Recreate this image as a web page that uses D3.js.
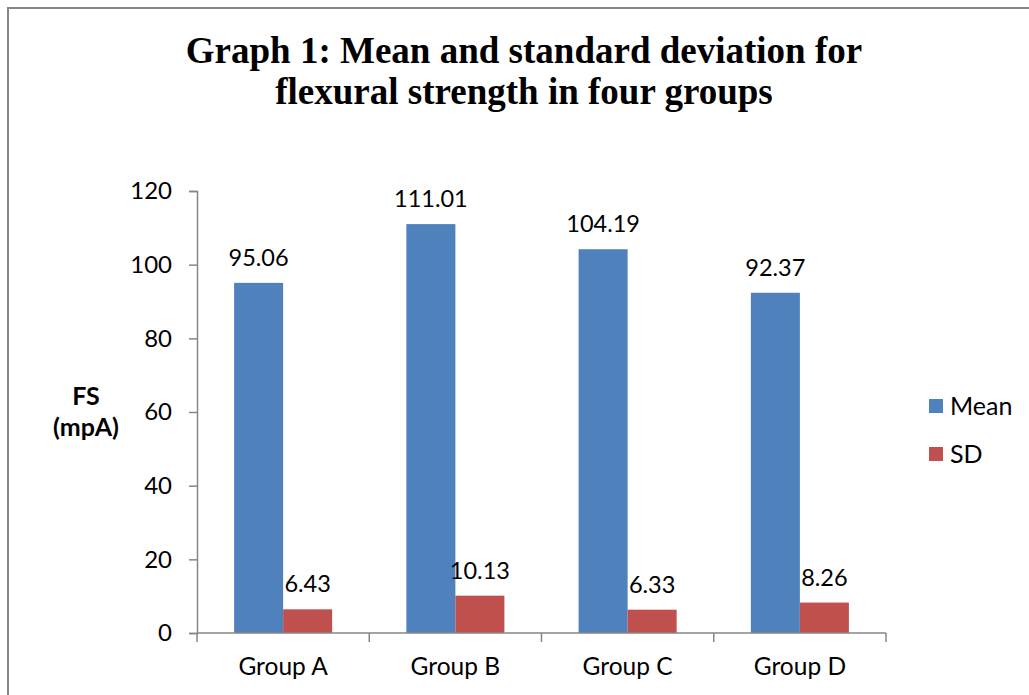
<!DOCTYPE html>
<html>
<head>
<meta charset="utf-8">
<script src="https://cdn.jsdelivr.net/npm/d3@7"></script>
<style>
  html, body { margin: 0; padding: 0; background: #fff; }
  svg { display: block; }
</style>
</head>
<body>
<svg id="chart" width="1029" height="695"></svg>
<script>
// Flexural strength summary per group
const groups = ["Group A", "Group B", "Group C", "Group D"];
const series = ["Mean", "SD"];
const meanValues = [95.06, 111.01, 104.19, 92.37];
const sdValues = [6.43, 10.13, 6.33, 8.26];
const yTicks = [0, 20, 40, 60, 80, 100, 120];
const titleLines = ["Graph 1: Mean and standard deviation for", "flexural strength in four groups"];
const yTitleLines = ["FS", "(mpA)"];
const colors = { Mean: "#4F81BD", SD: "#C0504D" };

const rows = groups.map((g, i) => ({ group: g, Mean: meanValues[i], SD: sdValues[i] }));

const svg = d3.select("#chart");
const font = "Lato, 'Open Sans', sans-serif";
const axisColor = "#868686";

// outer frame (continues past the right and bottom edges)
svg.append("rect")
  .attr("x", 8).attr("y", 8)
  .attr("width", 1060).attr("height", 720)
  .attr("fill", "none")
  .attr("stroke", axisColor)
  .attr("stroke-width", 2);

// title
svg.append("g").selectAll("text")
  .data(titleLines)
  .join("text")
  .attr("x", 524)
  .attr("y", (d, i) => 63 + i * 41)
  .attr("text-anchor", "middle")
  .attr("font-family", "'Liberation Serif', 'Times New Roman', serif")
  .attr("font-weight", "bold")
  .attr("font-size", 37)
  .attr("fill", "#000")
  .text(d => d);

// scales
const x = d3.scaleBand().domain(groups).range([197, 886]).padding(0);
const xSub = d3.scaleBand().domain(series).range([0, x.bandwidth()])
  .paddingInner(0).paddingOuter(0.757);
const y = d3.scaleLinear().domain([0, 120]).range([633, 191]);

// y axis
const yAxis = svg.append("g")
  .attr("transform", `translate(${x.range()[0]},0)`)
  .call(d3.axisLeft(y).tickValues(yTicks).tickSize(8).tickPadding(17));
yAxis.select(".domain").attr("stroke", axisColor).attr("stroke-width", 1.5);
yAxis.selectAll(".tick line").attr("stroke", axisColor).attr("stroke-width", 1.5);
yAxis.selectAll(".tick text")
  .attr("font-family", font).attr("font-size", 24).attr("fill", "#000");

// bars
const barGroups = svg.append("g").selectAll("g")
  .data(rows)
  .join("g")
  .attr("transform", d => `translate(${x(d.group)},0)`);

barGroups.selectAll("rect")
  .data(d => series.map(s => ({ key: s, value: d[s] })))
  .join("rect")
  .attr("x", d => xSub(d.key))
  .attr("y", d => y(d.value))
  .attr("width", xSub.bandwidth())
  .attr("height", d => y(0) - y(d.value))
  .attr("fill", d => colors[d.key]);

// value labels
barGroups.selectAll("text")
  .data(d => series.map(s => ({ key: s, value: d[s] })))
  .join("text")
  .attr("x", d => xSub(d.key) + xSub.bandwidth() / 2)
  .attr("y", d => y(d.value) - 17)
  .attr("text-anchor", "middle")
  .attr("font-family", font)
  .attr("font-size", 23.5)
  .attr("fill", "#000")
  .text(d => d.value.toFixed(2));

// x axis line and boundary ticks
const xAxis = svg.append("g");
xAxis.append("line")
  .attr("x1", x.range()[0]).attr("x2", x.range()[1])
  .attr("y1", y(0)).attr("y2", y(0))
  .attr("stroke", axisColor).attr("stroke-width", 1.5);
const boundaries = groups.map(g => x(g)).concat([x.range()[1]]);
xAxis.selectAll("line.tick")
  .data(boundaries)
  .join("line")
  .attr("class", "tick")
  .attr("x1", d => d).attr("x2", d => d)
  .attr("y1", y(0)).attr("y2", y(0) + 9)
  .attr("stroke", axisColor).attr("stroke-width", 1.5);
xAxis.selectAll("text")
  .data(groups)
  .join("text")
  .attr("x", d => x(d) + x.bandwidth() / 2)
  .attr("y", y(0) + 42)
  .attr("text-anchor", "middle")
  .attr("font-family", font)
  .attr("font-size", 24.5)
  .attr("fill", "#000")
  .text(d => d);

// y axis title
svg.append("g").selectAll("text")
  .data(yTitleLines)
  .join("text")
  .attr("x", 86)
  .attr("y", (d, i) => 405 + i * 31)
  .attr("text-anchor", "middle")
  .attr("font-family", font)
  .attr("font-weight", "bold")
  .attr("font-size", 25)
  .attr("fill", "#000")
  .text(d => d);

// legend
const legend = svg.append("g").selectAll("g")
  .data(series)
  .join("g")
  .attr("transform", (d, i) => `translate(929,${399 + i * 48})`);
legend.append("rect")
  .attr("width", 14).attr("height", 14)
  .attr("fill", d => colors[d]);
legend.append("text")
  .attr("x", 21).attr("y", 16)
  .attr("font-family", font)
  .attr("font-size", 25)
  .attr("fill", "#000")
  .text(d => d);
</script>
</body>
</html>
